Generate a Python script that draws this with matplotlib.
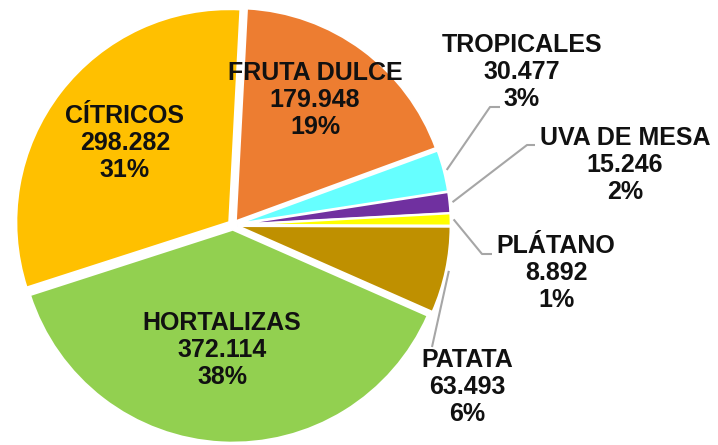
import matplotlib
matplotlib.use('Agg')
import matplotlib.pyplot as plt
import numpy as np

labels = ['FRUTA DULCE', 'TROPICALES', 'UVA DE MESA', 'PLÁTANO', 'PATATA', 'HORTALIZAS', 'CÍTRICOS']
values = [179.948, 30.477, 15.246, 8.892, 63.493, 372.114, 298.282]
pcts = [19, 3, 2, 1, 6, 38, 31]
colors = ['#ED7D31', '#66FFFF', '#7030A0', '#FFFF00', '#BF9000', '#92D050', '#FFC000']

W, H = 718, 445
plt.rcParams['font.family'] = ['Liberation Sans', 'DejaVu Sans']

fig = plt.figure(figsize=(W / 100, H / 100), dpi=100)
ax = fig.add_axes([0, 0, 1, 1])

def Y(y):
    return H - y

cx, cy, R = 233, Y(225), 213
# explode is in data units here (pixels), not fractions of the radius
wedges, _ = ax.pie(values, colors=colors, startangle=87, counterclock=False,
                   center=(cx, cy), radius=R, explode=[0.022 * R] * len(values),
                   wedgeprops=dict(edgecolor='white', linewidth=1.5), frame=True)
ax.set_xlim(0, W)
ax.set_ylim(0, H)
ax.set_aspect('equal')
ax.axis('off')

def label_text(i):
    return '%s\n%s\n%d%%' % (labels[i], '{:.3f}'.format(values[i]), pcts[i])

fs = 18
# inside labels (centre of text block, pixel coords)
inside = {0: (315, 100), 5: (222, 350), 6: (125, 143)}
for i, (x, y) in inside.items():
    ax.text(x, Y(y), label_text(i), ha='center', va='center', fontsize=fs,
            fontweight='bold', linespacing=1.15, color='#111111')

# outside labels with leader lines: text centre, elbow, end of horizontal piece
outside = {
    1: ((522, 72), (490, 107), (500, 107)),
    2: ((625, 165), (527, 145), (535, 145)),
    3: ((556, 273), (482, 254), (492, 254)),
    4: ((467, 387), (432, 347), (432, 347)),
}
for i, ((tx, ty), elbow, end) in outside.items():
    w = wedges[i]
    mid = np.deg2rad((w.theta1 + w.theta2) / 2)
    wx, wy = w.center
    sx = wx + (w.r + 3) * np.cos(mid)
    sy = wy + (w.r + 3) * np.sin(mid)
    ax.plot([sx, elbow[0], end[0]], [sy, Y(elbow[1]), Y(end[1])],
            color='#A6A6A6', lw=1.5, solid_capstyle='butt')
    ax.text(tx, Y(ty), label_text(i), ha='center', va='center', fontsize=fs,
            fontweight='bold', linespacing=1.15, color='#111111')

fig.savefig('out.png', dpi=100)
